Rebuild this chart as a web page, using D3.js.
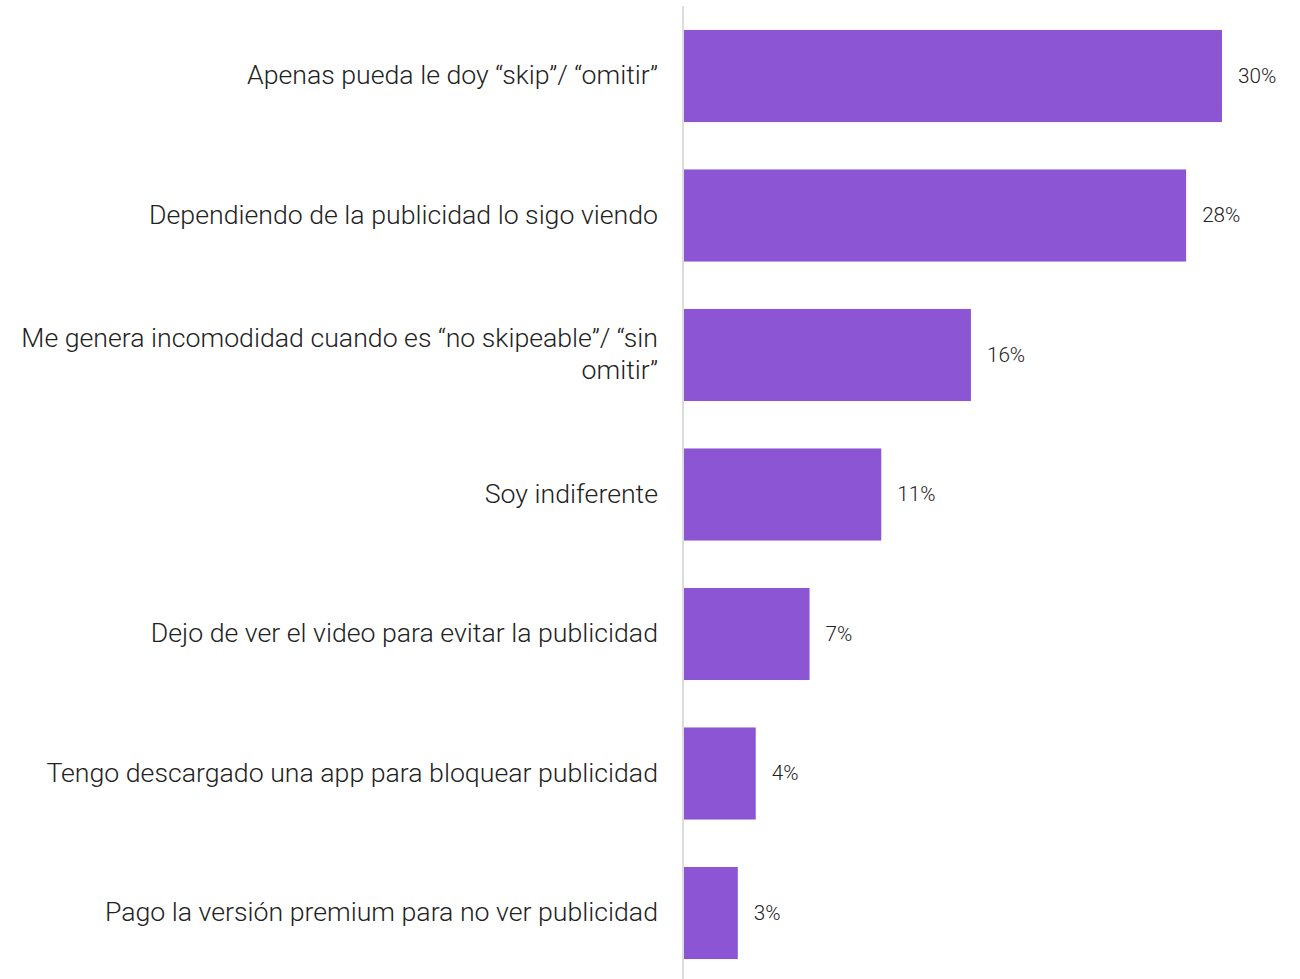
<!DOCTYPE html>
<html>
<head>
<meta charset="utf-8">
<script src="https://cdn.jsdelivr.net/npm/d3@7"></script>
<style>
  html, body { margin: 0; padding: 0; background: #fff; }
  svg { display: block; font-family: Roboto, "Noto Sans", sans-serif; }
</style>
</head>
<body>
<svg id="chart" width="1300" height="979"></svg>
<script>
const categories = [
  "Apenas pueda le doy “skip”/ “omitir”",
  "Dependiendo de la publicidad lo sigo viendo",
  "Me genera incomodidad cuando es “no skipeable”/ “sin omitir”",
  "Soy indiferente",
  "Dejo de ver el video para evitar la publicidad",
  "Tengo descargado una app para bloquear publicidad",
  "Pago la versión premium para no ver publicidad"
];
const values = [30, 28, 16, 11, 7, 4, 3];
const valueLabels = ["30%", "28%", "16%", "11%", "7%", "4%", "3%"];

const svg = d3.select("#chart");
const x0 = 684;
const x = d3.scaleLinear().domain([0, 30]).range([x0, 1222]);
const y = d3.scaleBand()
  .domain(categories)
  .range([6.25, 982.75])
  .paddingInner(0.34)
  .paddingOuter(0.17);

// bars
svg.append("g").selectAll("rect")
  .data(values)
  .join("rect")
  .attr("x", x(0))
  .attr("y", (d, i) => y(categories[i]))
  .attr("width", d => x(d) - x(0))
  .attr("height", y.bandwidth())
  .attr("fill", "#8b55d3");

// vertical baseline
svg.append("line")
  .attr("x1", x0 - 1).attr("x2", x0 - 1)
  .attr("y1", 6).attr("y2", 979)
  .attr("stroke", "#dcdcdc")
  .attr("stroke-width", 2);

// value labels
svg.append("g").selectAll("text")
  .data(values)
  .join("text")
  .attr("x", d => x(d) + 16)
  .attr("y", (d, i) => y(categories[i]) + y.bandwidth() / 2)
  .attr("dy", "0.33em")
  .attr("font-size", 20.7)
  .attr("font-weight", 300)
  .attr("fill", "#222")
  .text((d, i) => valueLabels[i]);

// category labels, wrapped to fit left column
const maxW = 648;
const lineH = 32;
const labelG = svg.append("g");
categories.forEach(cat => {
  const cy = y(cat) + y.bandwidth() / 2;
  const t = labelG.append("text")
    .attr("x", 658)
    .attr("text-anchor", "end")
    .attr("font-size", 26.7)
    .attr("font-weight", 300)
    .attr("fill", "#222");
  const words = cat.split(" ");
  const lines = [];
  let cur = [];
  const probe = t.append("tspan");
  words.forEach(w => {
    const test = cur.concat(w).join(" ");
    probe.text(test);
    if (probe.node().getComputedTextLength() > maxW && cur.length) {
      lines.push(cur.join(" "));
      cur = [w];
    } else {
      cur.push(w);
    }
  });
  lines.push(cur.join(" "));
  probe.remove();
  const startY = cy - (lines.length - 1) * lineH / 2;
  lines.forEach((ln, i) => {
    t.append("tspan")
      .attr("x", 658)
      .attr("y", startY + i * lineH)
      .attr("dy", "0.31em")
      .text(ln);
  });
});
</script>
</body>
</html>
